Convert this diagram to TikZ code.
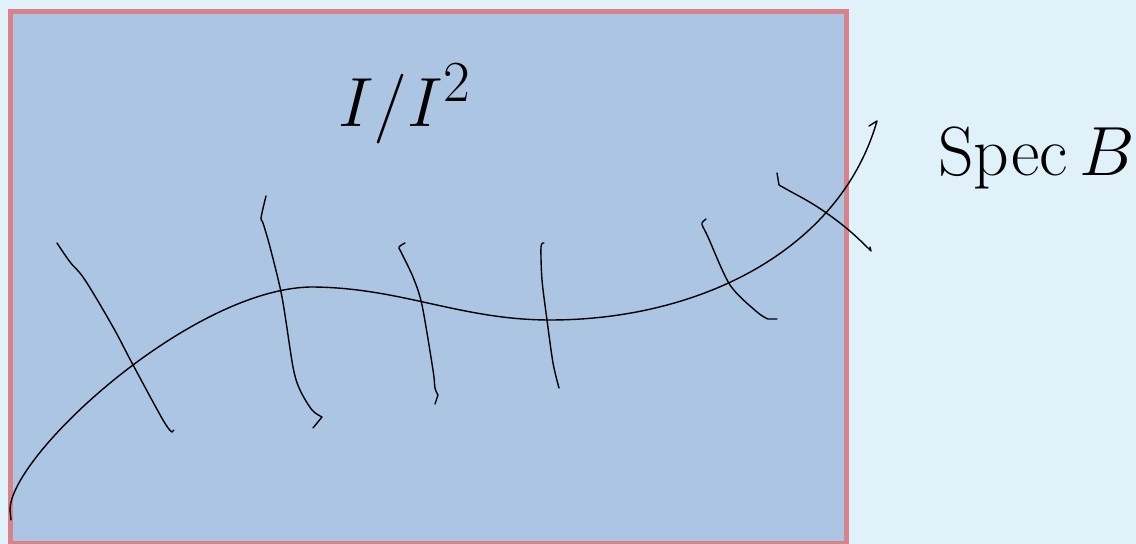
\documentclass[tikz,border=0pt]{standalone}
\usepackage{amsmath}
\usepackage{graphicx}
\definecolor{bgblue}{HTML}{E1F1FA}
\definecolor{boxblue}{HTML}{ACC5E3}
\definecolor{boxred}{HTML}{D8838A}
\tikzset{
  stroke/.style={black, line width=0.7pt, line cap=round, line join=round},
  label/.style={inner sep=0pt, font=\Huge},
}
\newcommand{\bigtxt}[1]{\scalebox{1.4}{#1}}
\begin{document}
\begin{tikzpicture}[x=0.5pt,y=-0.5pt]
\useasboundingbox (0,0) rectangle (1136,544);
\fill[bgblue] (0,0) rectangle (1136,544);
\draw[boxred, fill=boxblue, line width=2.5pt] (10.5,11.5) rectangle (846,543.5);
% main curve
\draw[stroke] (11,520) -- (10,510)
  .. controls (10,455) and (190,290) .. (310,287)
  .. controls (400,287) and (460,320) .. (550,320)
  .. controls (700,320) and (840,250) .. (877,121) -- (869,126);
% crossing strokes
\draw[stroke] plot[smooth, tension=0.6] coordinates {
 (57,243) (70,262) (85,280) (113,327) (132,363) (163,420) (172,432)} -- (174,430);
\draw[stroke] plot[smooth, tension=0.5] coordinates {
 (266,196) (261,218) (263,223) (270,247) (282,297) (293,367) (300,390) (312,410) (322,417)} -- (313,428);
\draw[stroke] plot[smooth, tension=0.5] coordinates {
 (405,243) (399,247) (401,252) (413,277) (422,305) (433,370) (435,388) (438,395)} -- (435,404);
\draw[stroke] plot[smooth, tension=0.5] coordinates {
 (544,243) (541,247) (542,280) (547,320) (553,363) (559,388)};
\draw[stroke] plot[smooth, tension=0.5] coordinates {
 (706,219) (702,223) (703,227) (708,237) (730,285) (757,312) (768,319)} -- (777,319);
\draw[stroke] (777,173) -- (779,185) to[out=-30,in=145] (825,212) to[out=-35,in=135] (871,251) -- (870,247);
% labels
\node[label, anchor=base west] (quot) at (338,127) {\bigtxt{$I/I^2$}};
\node[label, anchor=base west] (spec) at (938,176) {\bigtxt{$\operatorname{Spec} B$}};
\end{tikzpicture}
\end{document}
